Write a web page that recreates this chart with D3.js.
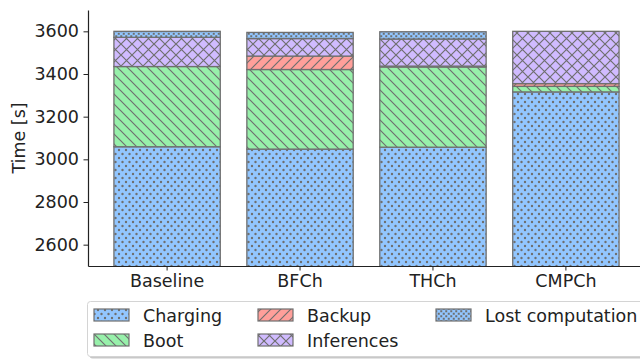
<!DOCTYPE html>
<html>
<head>
<meta charset="utf-8">
<script src="https://cdn.jsdelivr.net/npm/d3@7"></script>
<style>
  body { margin: 0; background: #fff; }
  svg { display: block; font-family: "DejaVu Sans", sans-serif; }
</style>
</head>
<body>
<div id="canvas"></div>
<script>
// values (seconds)
const categories = ["Baseline", "BFCh", "THCh", "CMPCh"];
const charging   = [3059, 3048, 3057, 3316];
const boot       = [376, 373, 376, 26];
const backup     = [0, 63, 4, 13];
const inferences = [137, 82, 127, 245];
const lost       = [28, 29, 34, 0];
const yTicks = [2600, 2800, 3000, 3200, 3400, 3600];

const seriesNames = ["Charging", "Boot", "Backup", "Inferences", "Lost computation"];
const seriesData = [charging, boot, backup, inferences, lost];
const colors = ["#92c6ff", "#97f0aa", "#ff9f9a", "#d0bbff", "#92c6ff"];
const hatches = ["dots", "back", "fwd", "cross", "dense"];

var width = 640, height = 360;
var edge = "#6f6f6f";
var fs = "17.5px";

var svg = d3.select("#canvas")
  .append("svg")
  .attr("width", width)
  .attr("height", height);

// hatch patterns
var defs = svg.append("defs");
function pat(id, w, h) {
  return defs.append("pattern")
    .attr("id", id)
    .attr("patternUnits", "userSpaceOnUse")
    .attr("width", w).attr("height", h);
}
var p = pat("dots", 7, 8);
[[3.5, 2], [0, 6], [7, 6]].forEach(c => p.append("circle").attr("cx", c[0]).attr("cy", c[1]).attr("r", 1.2).attr("fill", edge));
p = pat("dense", 5, 5);
[[1.25, 1.25], [3.75, 3.75]].forEach(c => p.append("rect").attr("x", c[0] - 1).attr("y", c[1] - 1).attr("width", 2).attr("height", 2).attr("fill", edge));
p = pat("back", 10, 10);
p.append("path").attr("d", "M-1,-1L11,11M-6,4L6,16M4,-6L16,6").attr("stroke", edge).attr("stroke-width", 1.2);
p = pat("fwd", 10, 10);
p.append("path").attr("d", "M-1,11L11,-1M-6,6L6,-6M4,16L16,4").attr("stroke", edge).attr("stroke-width", 1.2);
p = pat("cross", 11, 11);
p.append("path").attr("d", "M-1,-1L12,12M-1,12L12,-1").attr("stroke", edge).attr("stroke-width", 1.2);

var x = d3.scaleBand()
  .domain(categories)
  .range([88, 645])
  .paddingInner(0.2)
  .paddingOuter(0.195);

var y = d3.scaleLinear()
  .domain([2500, 3700])
  .range([266, 10]);

var rows = categories.map((c, i) => {
  var r = {cat: c};
  seriesNames.forEach((s, j) => r[s] = seriesData[j][i]);
  return r;
});
var stacked = d3.stack().keys(seriesNames)(rows);

var plot = svg.append("g");
plot.append("clipPath").attr("id", "clip")
  .append("rect").attr("x", 88).attr("y", 10).attr("width", 560).attr("height", 256);

stacked.forEach((layer, k) => {
  var g = plot.append("g").attr("clip-path", "url(#clip)");
  g.selectAll("rect.fill")
    .data(layer)
    .enter().append("rect")
      .attr("x", d => x(d.data.cat))
      .attr("y", d => y(d[1]))
      .attr("width", x.bandwidth())
      .attr("height", d => y(d[0]) - y(d[1]))
      .attr("fill", colors[k]);
  g.selectAll("rect.hatch")
    .data(layer)
    .enter().append("rect")
      .attr("x", d => x(d.data.cat))
      .attr("y", d => y(d[1]))
      .attr("width", x.bandwidth())
      .attr("height", d => y(d[0]) - y(d[1]))
      .attr("fill", "url(#" + hatches[k] + ")")
      .attr("stroke", edge)
      .attr("stroke-width", 1.3);
});

// axes
var yAxis = svg.append("g")
  .attr("transform", "translate(88,0)")
  .call(d3.axisLeft(y).tickValues(yTicks).tickFormat(d3.format("d")).tickSize(4.5).tickPadding(4.5).tickSizeOuter(0));
var xAxis = svg.append("g")
  .attr("transform", "translate(0,266)")
  .call(d3.axisBottom(x).tickSize(4.5).tickPadding(4.5).tickSizeOuter(0));
[yAxis, xAxis].forEach(a => {
  a.selectAll("text").style("font-size", fs).style("font-family", "DejaVu Sans").attr("fill", "#222");
  a.selectAll("line").attr("stroke", "#222").attr("stroke-width", 1);
  a.select(".domain").attr("stroke", "#222").attr("stroke-width", 1.2);
});

svg.append("text")
  .attr("transform", "translate(25,138) rotate(-90)")
  .style("text-anchor", "middle")
  .style("font-size", fs)
  .attr("fill", "#222")
  .text("Time [s]");

// legend
var leg = svg.append("g");
leg.append("rect")
  .attr("x", 89.5).attr("y", 303).attr("width", 570).attr("height", 55.5).attr("rx", 3)
  .attr("fill", "#c8c8c8");
leg.append("rect")
  .attr("x", 87.5).attr("y", 301.5).attr("width", 570).attr("height", 55).attr("rx", 3)
  .attr("fill", "#fff").attr("stroke", "#d4d4d4");
var colX = [94, 258, 436];
var rowY = [309, 334];
seriesNames.forEach((s, k) => {
  var c = Math.floor(k / 2), cx = colX[c], cy = rowY[k % 2];
  leg.append("rect").attr("x", cx).attr("y", cy).attr("width", 35).attr("height", 12).attr("fill", colors[k]);
  leg.append("rect").attr("x", cx).attr("y", cy).attr("width", 35).attr("height", 12)
    .attr("fill", "url(#" + hatches[k] + ")").attr("stroke", edge).attr("stroke-width", 1.2);
  leg.append("text")
    .attr("x", cx + 49).attr("y", cy + 12.5)
    .style("font-size", fs)
    .attr("fill", "#222")
    .text(s);
});
</script>
</body>
</html>
